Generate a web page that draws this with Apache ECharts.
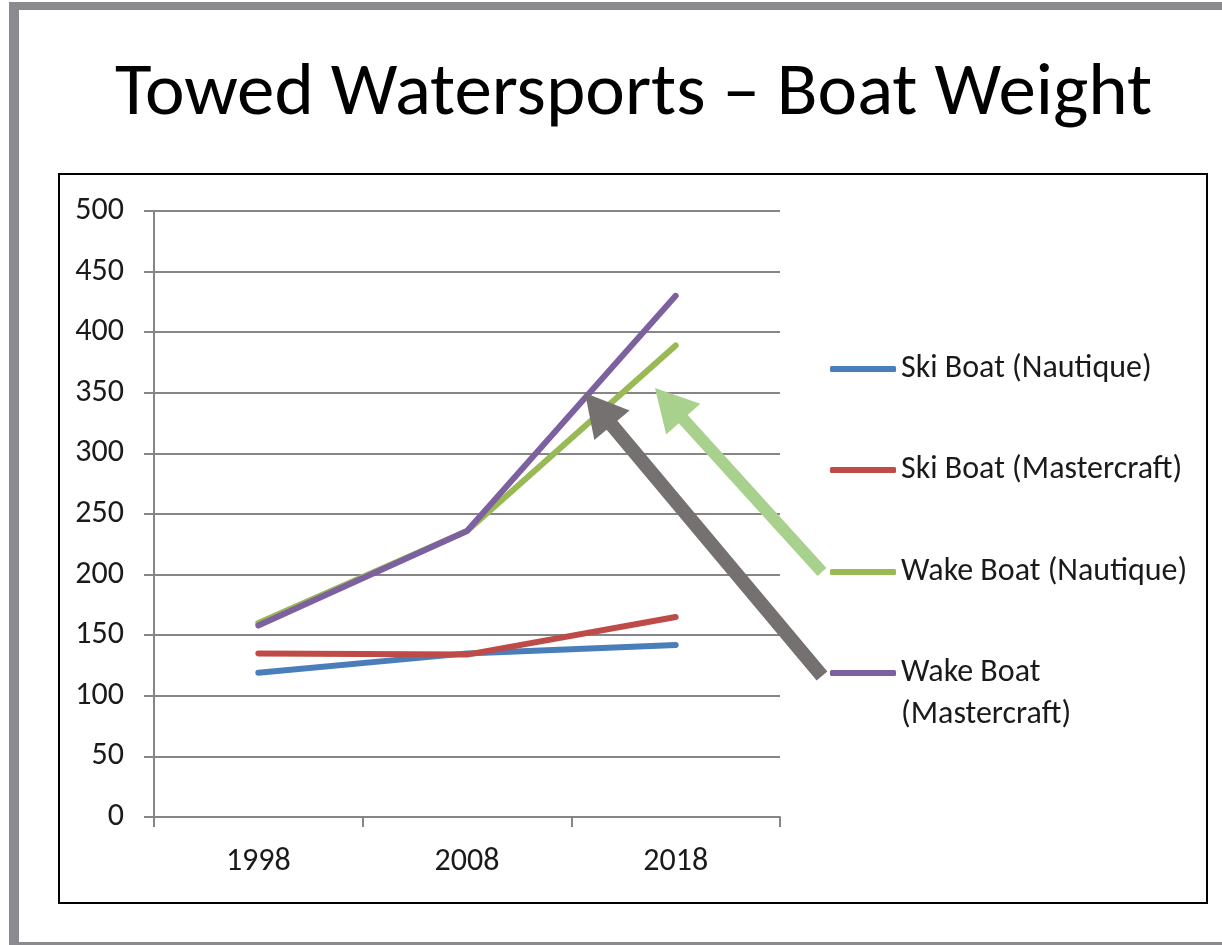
<!DOCTYPE html>
<html>
<head>
<meta charset="utf-8">
<script src="https://cdn.jsdelivr.net/npm/echarts@6/dist/echarts.min.js"></script>
<style>
html, body { margin: 0; padding: 0; background: #fff; }
#chart { width: 1222px; height: 945px; }
</style>
</head>
<body>
<div id="chart"></div>
<script>
var years = ['1998', '2008', '2018'];
var seriesNames = ['Ski Boat (Nautique)', 'Ski Boat (Mastercraft)', 'Wake Boat (Nautique)', 'Wake Boat (Mastercraft)'];
var skiNautique = [119, 135, 142];
var skiMastercraft = [135, 134, 165];
var wakeNautique = [160, 236, 389];
var wakeMastercraft = [158, 236, 430];
var seriesColors = ['#4a7ebb', '#be4b48', '#98b954', '#7d60a0'];

var FONT = 'Carlito, "Open Sans", sans-serif';

function makeLine(name, data, color) {
    return {
        name: name,
        type: 'line',
        data: data,
        symbol: 'none',
        lineStyle: { color: color, width: 6, cap: 'round', join: 'round' },
        itemStyle: { color: color }
    };
}

// one legend per entry so each row sits where Excel put it
function makeLegend(name, top, text) {
    return {
        data: [name],
        orient: 'vertical',
        left: 830,
        top: top,
        padding: 0,
        icon: 'roundRect',
        itemWidth: 66,
        itemHeight: 6,
        textStyle: { fontFamily: FONT, fontSize: 32, color: '#1a1a1a', lineHeight: 42 },
        formatter: function () { return text; },
        selectedMode: false
    };
}

function arrow(x1, y1, x2, y2, color, shaft) {
    var dx = x2 - x1, dy = y2 - y1;
    var len = Math.sqrt(dx * dx + dy * dy);
    var ux = dx / len, uy = dy / len;
    var headLen = 42, headW = 23;
    var bx = x2 - ux * headLen, by = y2 - uy * headLen;
    var px = -uy, py = ux;
    return {
        type: 'polygon',
        shape: {
            points: [
                [x1 + px * shaft, y1 + py * shaft],
                [bx + px * shaft, by + py * shaft],
                [bx + px * headW, by + py * headW],
                [x2, y2],
                [bx - px * headW, by - py * headW],
                [bx - px * shaft, by - py * shaft],
                [x1 - px * shaft, y1 - py * shaft]
            ]
        },
        style: { fill: color },
        z: 10
    };
}

var chart = echarts.init(document.getElementById('chart'));
var option = {
    backgroundColor: '#ffffff',
    animation: false,
    title: {
        text: 'Towed Watersports \u2013 Boat Weight',
        left: 115,
        top: 58,
        padding: 0,
        textStyle: { fontFamily: FONT, fontSize: 75, fontWeight: 'normal', color: '#000' }
    },
    grid: { left: 154, right: 442, top: 211, bottom: 128 },
    legend: [
        makeLegend(seriesNames[0], 348, seriesNames[0]),
        makeLegend(seriesNames[1], 449, seriesNames[1]),
        makeLegend(seriesNames[2], 551, seriesNames[2]),
        makeLegend(seriesNames[3], 610, '\nWake Boat\n(Mastercraft)')
    ],
    xAxis: {
        type: 'category',
        data: years,
        boundaryGap: true,
        axisLine: { lineStyle: { color: '#868686', width: 2 } },
        axisTick: { show: true, length: 10, lineStyle: { color: '#868686', width: 2 } },
        axisLabel: { fontFamily: FONT, fontSize: 32, color: '#1a1a1a', margin: 29 },
        splitLine: { show: false }
    },
    yAxis: {
        type: 'value',
        min: 0,
        max: 500,
        interval: 50,
        axisLine: { show: true, lineStyle: { color: '#868686', width: 2 } },
        axisTick: { show: true, length: 10, lineStyle: { color: '#868686', width: 2 } },
        axisLabel: { fontFamily: FONT, fontSize: 32, color: '#1a1a1a', margin: 30 },
        splitLine: { lineStyle: { color: '#868686', width: 2 } }
    },
    series: [
        makeLine(seriesNames[0], skiNautique, seriesColors[0]),
        makeLine(seriesNames[1], skiMastercraft, seriesColors[1]),
        makeLine(seriesNames[2], wakeNautique, seriesColors[2]),
        makeLine(seriesNames[3], wakeMastercraft, seriesColors[3])
    ],
    graphic: [
        // slide frame: left and top bands, thin bottom edge
        { type: 'rect', shape: { x: 9, y: 2, width: 10, height: 943 }, style: { fill: '#8a8a8f' }, z: -1 },
        { type: 'rect', shape: { x: 9, y: 2, width: 1213, height: 8 }, style: { fill: '#8a8a8f' }, z: -1 },
        { type: 'rect', shape: { x: 9, y: 942, width: 1213, height: 3 }, style: { fill: '#8a8a8f' }, z: -1 },
        // chart box
        { type: 'rect', shape: { x: 59, y: 174, width: 1148, height: 729 }, style: { fill: 'none', stroke: '#000', lineWidth: 2 } },
        arrow(822, 676, 585, 393, '#767171', 7),
        arrow(822, 572, 655, 388, '#a9d18e', 6)
    ]
};
chart.setOption(option);
</script>
</body>
</html>
